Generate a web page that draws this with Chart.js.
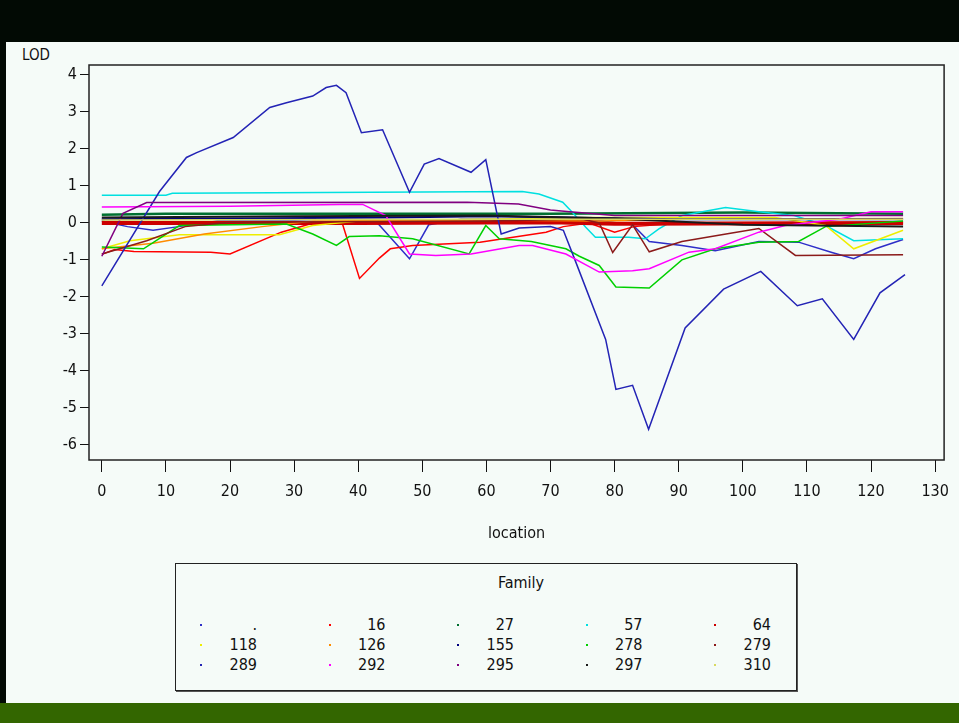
<!DOCTYPE html>
<html>
<head>
<meta charset="utf-8">
<script src="https://cdn.jsdelivr.net/npm/chart.js@4.4.1/dist/chart.umd.min.js"></script>
<style>
  body { margin: 0; width: 959px; height: 723px; background: #f5fbf8; overflow: hidden; position: relative;
         font-family: "Liberation Sans Narrow", "DejaVu Sans Condensed", "Arial Narrow", sans-serif; }
  #topBar { position: absolute; left: 0; top: 0; width: 959px; height: 42px; background: #020a04; }
  #leftBar { position: absolute; left: 0; top: 42px; width: 6px; height: 661px; background: #020a04; }
  #bottomBar { position: absolute; left: 0; top: 703px; width: 959px; height: 20px; background: #336600; }
  #lodLabel { position: absolute; left: 22px; top: 46px; font-size: 15px; color: #111; }
  #chartBox { position: absolute; left: 0; top: 42px; width: 959px; height: 520px; }
  #legendBox { position: absolute; left: 175px; top: 563px; width: 622px; height: 128px; box-sizing: border-box;
               border: 1px solid #222; box-shadow: 1px 1px 0 #555; }
  #legendBox .ttl { position: absolute; left: 310px; width: 70px; top: 9px; text-align: center; font-size: 16px; color: #111; }
  .lgLabel { position: absolute; font-size: 16px; color: #111; text-align: right; }
  .lgDot { position: absolute; width: 2px; height: 2px; }
</style>
</head>
<body>
<div id="topBar"></div>
<div id="leftBar"></div>
<div id="bottomBar"></div>
<div id="lodLabel">LOD</div>
<div id="chartBox"><canvas id="lodChart" width="959" height="520"></canvas></div>
<div id="legendBox"><div class="ttl">Family</div></div>

<script>
// family names, in legend order
const families = [".", "16", "27", "57", "64", "118", "126", "155", "278", "279", "289", "292", "295", "297", "310"];
const familyColors = ["#2e2ec8", "#ff0000", "#007030", "#00e0e0", "#cc0000", "#eeee00", "#ff8c00", "#000080",
                      "#00d000", "#8b1a1a", "#2323b5", "#ff00ff", "#800080", "#1a1a1a", "#d8d860"];

const xTicks = [0, 10, 20, 30, 40, 50, 60, 70, 80, 90, 100, 110, 120, 130];
const yTicks = [-6, -5, -4, -3, -2, -1, 0, 1, 2, 3, 4];

// [location, LOD] pairs per family
const curveDot = [[0,0.05],[4,-0.1],[8,-0.2],[12,-0.1],[18,0.05],[30,0.05],[43,0.0],[48,-0.97],[51,-0.05],[56,0.1],
  [70,0.1],[78,0.05],[82.8,-0.05],[85.4,-0.5],[90.5,-0.61],[95.7,-0.75],[102.5,-0.5],[108.7,-0.52],[113.9,-0.8],
  [117.3,-0.97],[120.7,-0.7],[125,-0.45]];
const curve16 = [[0,-0.85],[2,-0.72],[5,-0.77],[17,-0.79],[20,-0.84],[28,-0.25],[33,0],[37.5,0],[40.2,-1.5],
  [43.3,-0.95],[45,-0.7],[48.5,-0.61],[59,-0.52],[69.3,-0.25],[72,-0.1],[76,0],[80,-0.25],[83,-0.1],[90,0],[125,0]];
const curve27 = [[0,0.22],[10,0.25],[40,0.25],[70,0.25],[100,0.28],[125,0.25]];
const curve57 = [[0,0.75],[10,0.75],[11,0.8],[65.6,0.85],[68.2,0.78],[71.9,0.56],[73.4,0.29],[75.5,-0.12],[77,-0.39],
  [82.2,-0.39],[84.8,-0.43],[86.9,-0.16],[90.5,0.2],[97.3,0.42],[102.5,0.3],[108,0.2],[112.9,-0.07],[117.3,-0.48],[125,-0.43]];
const curve64 = [[0,0.0],[40,0.0],[70,0.02],[80,-0.02],[125,0.0]];
const curve118 = [[0,-0.7],[4.4,-0.48],[12.1,-0.32],[27.7,-0.32],[32.9,-0.07],[40,0.05],[60,0.1],[75,0.15],[90,0.15],
  [105,0.15],[112.9,-0.07],[117.3,-0.7],[125,-0.2]];
const curve126 = [[0,-0.7],[8,-0.55],[16,-0.3],[25,-0.1],[33,0.05],[60,0.08],[78,0.05],[90,0.1],[125,0.12]];
const curve155 = [[0,0.1],[20,0.12],[45,0.15],[60,0.18],[72,0.15],[90,0.1],[125,0.1]];
const curve278 = [[0,-0.65],[6.5,-0.7],[12.1,-0.07],[28.8,-0.03],[32.9,-0.3],[36.6,-0.61],[38.6,-0.37],[43.3,-0.35],
  [48.5,-0.43],[57.3,-0.84],[59.9,-0.07],[62,-0.43],[67,-0.5],[72.4,-0.7],[74.5,-0.9],[77.6,-1.15],[80.2,-1.73],
  [85.4,-1.76],[90.5,-1.0],[95.7,-0.7],[102.5,-0.52],[108.7,-0.5],[112.9,-0.1],[125,0.05]];
const curve279 = [[0,-0.84],[7,-0.48],[13,-0.1],[20,0.02],[60,0.05],[75,0.1],[77.6,0.0],[79.7,-0.8],[82.8,-0.05],
  [85.4,-0.78],[90.5,-0.5],[98.3,-0.27],[102.5,-0.15],[108.2,-0.88],[125,-0.86]];
const curve289 = [[0,-1.7],[9,0.85],[13.2,1.77],[14.8,1.9],[20.5,2.31],[26.2,3.12],[28.8,3.25],[32.9,3.43],[35,3.66],
  [36.6,3.72],[38.1,3.52],[40.5,2.44],[43.8,2.52],[48,0.83],[50.3,1.59],[52.6,1.74],[57.6,1.37],[59.9,1.71],
  [62.3,-0.3],[65.1,-0.14],[70,-0.1],[72,-0.2],[73.9,-1.04],[78.6,-3.15],[80.2,-4.5],[82.8,-4.39],[85.3,-5.58],
  [91,-2.84],[97,-1.79],[102.8,-1.31],[108.5,-2.24],[112.4,-2.05],[117.3,-3.15],[121.4,-1.89],[125.3,-1.4]];
const curve292 = [[0,0.43],[20,0.45],[37,0.5],[40.7,0.5],[44.3,0.2],[48,-0.84],[52.1,-0.88],[57.6,-0.84],[65.1,-0.61],
  [67.2,-0.61],[72.4,-0.84],[77.6,-1.33],[82.8,-1.29],[85.4,-1.24],[91.6,-0.79],[95.7,-0.7],[102.5,-0.25],
  [106.6,-0.07],[115,0.1],[120,0.3],[125,0.3]];
const curve295 = [[0,-0.9],[3.3,0.26],[7,0.55],[57,0.56],[65,0.51],[70,0.35],[73,0.3],[80,0.2],[125,0.2]];
const curve297 = [[0,0.15],[30,0.18],[60,0.2],[80,0.12],[100,-0.05],[125,-0.1]];
const curve310 = [[0,0.08],[60,0.1],[125,0.1]];

const curves = [curveDot, curve16, curve27, curve57, curve64, curve118, curve126, curve155,
                curve278, curve279, curve289, curve292, curve295, curve297, curve310];

// a few families sit on top of each other near 0 and look heavier
const heavy = { "64": 4, "27": 2.5, "297": 2, "155": 2 };

const frame = {
  id: "frame",
  beforeDatasetsDraw(chart) {
    const { ctx, chartArea: a } = chart;
    ctx.save();
    ctx.strokeStyle = "#222";
    ctx.lineWidth = 1.5;
    ctx.strokeRect(a.left, a.top, a.right - a.left, a.bottom - a.top);
    ctx.restore();
  }
};

const tickFont = { family: '"Liberation Sans Narrow", "DejaVu Sans Condensed", sans-serif', size: 16 };

new Chart(document.getElementById("lodChart"), {
  type: "line",
  data: {
    datasets: curves.map((c, i) => ({
      label: families[i],
      data: c.map(p => ({ x: p[0], y: p[1] })),
      borderColor: familyColors[i],
      borderWidth: heavy[families[i]] || 1.5,
      pointRadius: 0,
      tension: 0,
      fill: false,
      order: families.length - i
    }))
  },
  options: {
    responsive: false,
    animation: false,
    layout: { padding: { left: 0, right: 13, top: 23, bottom: 0 } },
    plugins: { legend: { display: false }, tooltip: { enabled: false } },
    scales: {
      x: {
        type: "linear",
        min: -2.0,
        max: 131.4,
        afterBuildTicks: s => { s.ticks = xTicks.map(v => ({ value: v })); },
        afterFit: s => { s.height = 102; },
        border: { display: false },
        grid: { drawOnChartArea: false, drawTicks: true, tickLength: 12, color: "#111" },
        ticks: { color: "#111", font: tickFont, padding: 10, maxRotation: 0 },
        title: { display: true, text: "location", color: "#111", font: tickFont, padding: { top: 0, bottom: 19 } }
      },
      y: {
        min: -6.41,
        max: 4.27,
        afterBuildTicks: s => { s.ticks = yTicks.map(v => ({ value: v })); },
        afterFit: s => { s.width = 89; },
        border: { display: false },
        grid: { drawOnChartArea: false, drawTicks: true, tickLength: 9, color: "#111" },
        ticks: { color: "#111", font: tickFont, padding: 3 }
      }
    }
  },
  plugins: [frame]
});

// legend: 5 columns of tiny dots and right-aligned labels
const legendBox = document.getElementById("legendBox");
families.forEach((name, i) => {
  const col = i % 5, row = Math.floor(i / 5);
  const cy = 61 + row * 20;
  const dot = document.createElement("div");
  dot.className = "lgDot";
  dot.style.left = (24 + col * 128.5) + "px";
  dot.style.top = (cy - 1) + "px";
  dot.style.background = familyColors[i];
  legendBox.appendChild(dot);
  const lab = document.createElement("div");
  lab.className = "lgLabel";
  lab.textContent = name;
  lab.style.right = (622 - 83 - col * 128.5) + "px";
  lab.style.top = (cy - 10) + "px";
  legendBox.appendChild(lab);
});
</script>
</body>
</html>
